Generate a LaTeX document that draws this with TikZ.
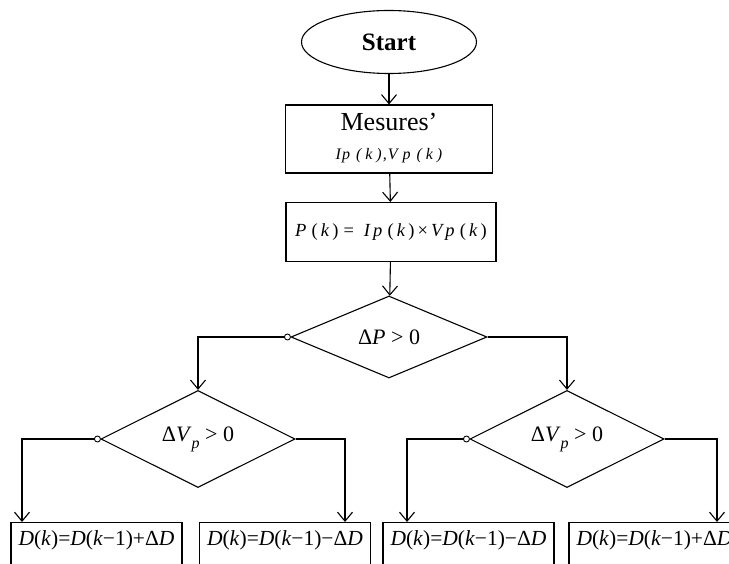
\documentclass[tikz,border=0pt]{standalone}
\usepackage{fontspec}
\setmainfont{Liberation Serif}
\usetikzlibrary{shapes.geometric,arrows.meta}

\begin{document}
\begin{tikzpicture}[x=1pt,y=-1pt,line width=1.1pt,
    term/.style={ellipse,draw,minimum width=175pt,minimum height=63pt,inner sep=0pt,font=\fontsize{25}{28}\selectfont\bfseries},
    box/.style={rectangle,draw,inner sep=0pt,align=center},
    test/.style={diamond,draw,inner sep=0pt,minimum width=196pt,minimum height=82pt,font=\fontsize{22}{26}\selectfont},
    res/.style={rectangle,draw,inner sep=0pt,anchor=north,minimum width=171pt,text height=23pt,text depth=45pt,font=\fontsize{21.5}{24}\selectfont},
    arr/.style={-{Straight Barb[length=9pt,width=15pt]}}]
                      \path[use as bounding box,clip] (0,0) rectangle (729,564);

                      \node (start) at (389,42) [term] {Start};
                      \node (mes) at (389,139) [box,minimum width=207pt,minimum height=68pt,font=\fontsize{16}{29}\selectfont,text depth=5pt]
                            {\fontsize{26}{30}\selectfont Mesures’\\
                             \fontsize{16}{29}\selectfont\itshape I\hspace{1pt}p\hspace{6pt}(\hspace{4pt}k\hspace{4pt})\hspace{1pt},\hspace{1pt}V\hspace{5pt}p\hspace{6pt}(\hspace{4pt}k\hspace{4pt})};
                      \node (pk) at (391,232) [box,minimum width=210pt,minimum height=59pt,font=\fontsize{18.5}{22}\selectfont]
                            {\textit{P}\;(\,\textit{k}\,)\;=\ \;\textit{I\,p}\;(\,\textit{k}\,)\,×\,\textit{V\,p}\;(\,\textit{k}\,)};
                      \node (dp) at (389,337) [test] {Δ\textit{P} > 0};
                      \node (dl) at (198,439) [test,minimum height=80pt,minimum width=194pt] {Δ\textit{V}\raisebox{-7pt}{\fontsize{16}{18}\selectfont\textit{p}} > 0};
                      \node (dr) at (567,439) [test,minimum height=80pt,minimum width=194pt] {Δ\textit{V}\raisebox{-7pt}{\fontsize{16}{18}\selectfont\textit{p}} > 0};

                      \node (b1) at (96.5,522) [res] {\textit{D}(\textit{k})=\textit{D}(\textit{k}−1)+Δ\textit{D}};
                      \node (b2) at (285,522) [res] {\textit{D}(\textit{k})=\textit{D}(\textit{k}−1)−Δ\textit{D}};
                      \node (b3) at (468.5,522) [res] {\textit{D}(\textit{k})=\textit{D}(\textit{k}−1)−Δ\textit{D}};
                      \node (b4) at (654.5,522) [res] {\textit{D}(\textit{k})=\textit{D}(\textit{k}−1)+Δ\textit{D}};

                      \coordinate (a1) at (22,522);
                      \coordinate (a2) at (345,522);
                      \coordinate (a3) at (407,522);
                      \coordinate (a4) at (717,522);

                      \draw[arr] (start) -- (mes);
                      \draw[arr] (mes) -- (pk);
                      \draw[arr] (pk) -- (dp);
                      \draw[arr] (dp.west) -| (dl.north);
                      \draw[arr] (dp.east) -| (dr.north);
                      \draw[arr] (dl.west) -| (a1);
                      \draw[arr] (dl.east) -| (a2);
                      \draw[arr] (dr.west) -| (a3);
                      \draw[arr] (dr.east) -| (a4);

                      \draw[line width=0.9pt,fill=white] ([xshift=-3pt]dp.west) circle (3pt);
                      \draw[line width=0.9pt,fill=white] ([xshift=-3pt]dl.west) circle (3pt);
                      \draw[line width=0.9pt,fill=white] ([xshift=-3pt]dr.west) circle (3pt);
                \end{tikzpicture}
\end{document}
